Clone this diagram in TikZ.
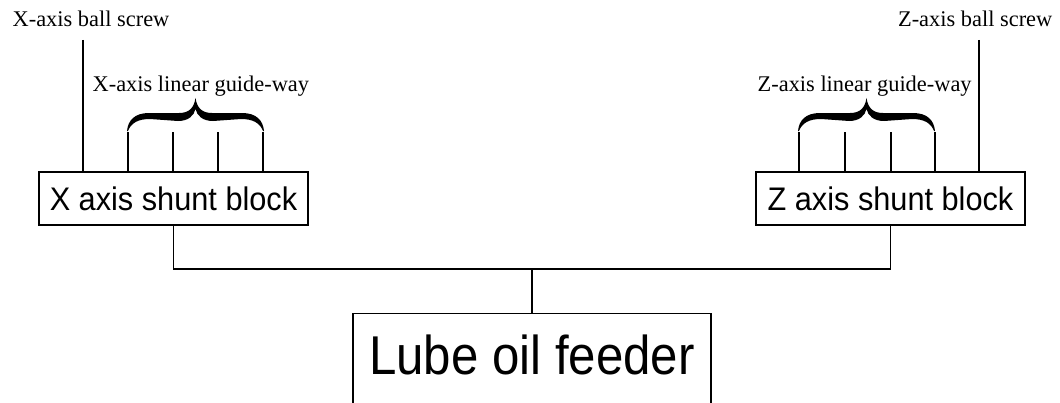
\documentclass[tikz,border=0pt]{standalone}
\usepackage{fontspec}
\setmainfont{Liberation Serif}
\newfontfamily\arialfont{Liberation Sans}
\begin{document}
\begin{tikzpicture}[x=0.75pt,y=-0.75pt,
  line width=1pt,
  lbl/.style={font=\fontsize{16.8}{20}\selectfont, inner sep=0pt},
  block/.style={draw, line width=1pt, font=\arialfont\fontsize{24.5}{28}\selectfont,
    minimum width=201.75pt, minimum height=39.75pt, inner sep=0pt},
  feeder/.style={draw, line width=1pt, font=\arialfont\fontsize{41}{48}\selectfont,
    minimum width=268.5pt, text height=45.75pt, text depth=45pt, inner sep=0pt, anchor=north},
  wire/.style={line width=1pt},
  thickbrace/.pic={
    \fill (0,33) .. controls (1,22) and (8,15) .. (22,15) -- (52,15)
      .. controls (62,15) and (67,10) .. (68.5,0)
      .. controls (70,10) and (75,15) .. (85,15) -- (115,15)
      .. controls (129,15) and (136,22) .. (137,33)
      -- (136,33) .. controls (133,25) and (126,21) .. (114,21) -- (86,23)
      .. controls (76,23) and (70,18) .. (68.5,11)
      .. controls (67,18) and (61,23) .. (51,23) -- (23,21)
      .. controls (11,21) and (4,25) .. (1,33) -- cycle;
  },
]
\clip (0,0) rectangle (1060,403);

% labels
\node[lbl, anchor=base west] (xball) at (12,27) {X-axis ball screw};
\node[lbl, anchor=base west] (xguide) at (92,92) {X-axis linear guide-way};
\node[lbl, anchor=base east] (zball) at (1053,27) {Z-axis ball screw};
\node[lbl, anchor=base west] (zguide) at (757,92) {Z-axis linear guide-way};

% blocks
\node[block] (xbox) at (173.5,198.5) {\scalebox{0.94}[1]{X axis shunt block}};
\node[block] (zbox) at (890.5,198.5) {\scalebox{0.94}[1]{Z axis shunt block}};
\node[feeder] (lube) at (532,313) {\scalebox{0.9}[1]{Lube oil feeder}};

% ball screw lines
\coordinate (xbstop) at (83,40);
\coordinate (zbstop) at (979,40);
\draw[wire] (xbstop) -- (xbstop |- xbox.north);
\draw[wire] (zbstop) -- (zbstop |- zbox.north);

% guide-way lines
\foreach \x [count=\i] in {128,173,218,263} {
  \coordinate (xgt\i) at (\x,132);
  \draw[wire] (xgt\i) -- (xgt\i |- xbox.north);
}
\foreach \x [count=\i] in {799,845,891,935} {
  \coordinate (zgt\i) at (\x,132);
  \draw[wire] (zgt\i) -- (zgt\i |- zbox.north);
}

% braces
\pic at (127,98) {thickbrace};
\pic at (798,98) {thickbrace};

% bus
\coordinate (bus) at (532,269);
\draw[wire] (xbox.south) |- (bus) -| (zbox.south);
\draw[wire] (bus) -- (lube.north);
\end{tikzpicture}
\end{document}
